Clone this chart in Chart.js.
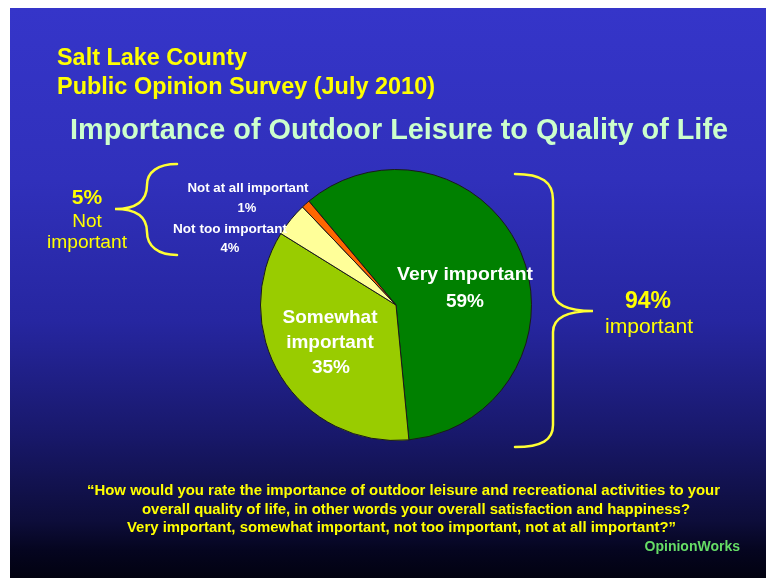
<!DOCTYPE html>
<html>
<head>
<meta charset="utf-8">
<script src="https://cdn.jsdelivr.net/npm/chart.js@4/dist/chart.umd.min.js"></script>
<style>
html,body{margin:0;padding:0;background:#ffffff;}
#wrap{position:absolute;left:0;top:0;width:766px;height:578px;}
</style>
</head>
<body>
<div id="wrap"><canvas id="c" width="766" height="578"></canvas></div>
<script>
// ---- data ----
const categories = ["Very important", "Somewhat important", "Not too important", "Not at all important"];
const values = [59, 35, 4, 1];
const sliceColors = ["#008000", "#99cc00", "#ffff99", "#ff6600"];
const headerLines = ["Salt Lake County", "Public Opinion Survey (July 2010)"];
const chartTitle = "Importance of Outdoor Leisure to Quality of Life";
const questionLines = [
  "\u201CHow would you rate the importance of outdoor leisure and recreational activities to your",
  "overall quality of life, in other words your overall satisfaction and happiness?",
  "Very important, somewhat important, not too important, not at all important?\u201D"
];
const groupNot = ["5%", "Not", "important"];
const groupImportant = ["94%", "important"];

const FONT = "'Liberation Sans', Arial, 'DejaVu Sans', sans-serif";

function txt(ctx, s, x, y, size, bold, color, align, fitW) {
  ctx.save();
  ctx.font = (bold ? "bold " : "") + size + "px " + FONT;
  ctx.fillStyle = color;
  ctx.textBaseline = "middle";
  const w = ctx.measureText(s).width;
  let sx = 1;
  if (fitW) sx = fitW / w;
  let left;
  if (align === "center") left = x - w * sx / 2;
  else if (align === "right") left = x - w * sx;
  else left = x;
  ctx.translate(left, y);
  ctx.scale(sx, 1);
  ctx.textAlign = "left";
  ctx.fillText(s, 0, 0);
  ctx.restore();
}

const slidePlugin = {
  id: "slide",
  beforeDraw(chart) {
    const ctx = chart.ctx;
    ctx.save();
    ctx.fillStyle = "#ffffff";
    ctx.fillRect(0, 0, 766, 578);
    const g = ctx.createLinearGradient(0, 8, 0, 578);
    g.addColorStop(0, "#3535c9");
    g.addColorStop(0.3, "#3030bb");
    g.addColorStop(0.55, "#2626a0");
    g.addColorStop(0.75, "#18186a");
    g.addColorStop(0.9, "#0d0d3a");
    g.addColorStop(0.95, "#050520");
    g.addColorStop(1, "#020210");
    ctx.fillStyle = g;
    ctx.fillRect(10, 8, 756, 570);
    ctx.restore();
  },
  afterDraw(chart) {
    const ctx = chart.ctx;
    // header
    txt(ctx, headerLines[0], 57, 59, 23, true, "#ffff00", "left", 190);
    txt(ctx, headerLines[1], 57, 88, 23, true, "#ffff00", "left", 378);
    txt(ctx, chartTitle, 70, 131, 29, true, "#ccffcc", "left", 658);
    // braces
    ctx.save();
    ctx.strokeStyle = "#ffff33";
    ctx.lineWidth = 2.5;
    ctx.lineCap = "round";
    ctx.beginPath();
    ctx.moveTo(177, 164);
    ctx.bezierCurveTo(158, 164, 147, 172, 147, 185);
    ctx.bezierCurveTo(147, 200, 138, 209, 115, 209);
    ctx.bezierCurveTo(138, 209, 147, 218, 147, 232);
    ctx.bezierCurveTo(147, 246, 158, 255, 177, 255);
    ctx.stroke();
    ctx.beginPath();
    ctx.moveTo(515, 174);
    ctx.bezierCurveTo(542, 174, 553, 182, 553, 200);
    ctx.lineTo(553, 290);
    ctx.bezierCurveTo(553, 304, 566, 311, 593, 311);
    ctx.bezierCurveTo(566, 311, 553, 318, 553, 332);
    ctx.lineTo(553, 425);
    ctx.bezierCurveTo(553, 440, 542, 447, 515, 447);
    ctx.stroke();
    ctx.restore();
    // group labels
    txt(ctx, groupNot[0], 87, 198, 21, true, "#ffff00", "center");
    txt(ctx, groupNot[1], 87, 222, 19, false, "#ffff00", "center");
    txt(ctx, groupNot[2], 87, 243, 19, false, "#ffff00", "center", 80);
    txt(ctx, groupImportant[0], 648, 302, 23, true, "#ffff00", "center");
    txt(ctx, groupImportant[1], 649, 327, 21, false, "#ffff00", "center", 88);
    // small slice labels
    txt(ctx, categories[3], 248, 188, 13, true, "#ffffff", "center", 121);
    txt(ctx, values[3] + "%", 247, 208, 13, true, "#ffffff", "center");
    txt(ctx, categories[2], 230, 229, 13, true, "#ffffff", "center", 114);
    txt(ctx, values[2] + "%", 230, 248, 13, true, "#ffffff", "center");
    // big slice labels
    txt(ctx, categories[0], 465, 275, 19, true, "#ffffff", "center", 136);
    txt(ctx, values[0] + "%", 465, 302, 19, true, "#ffffff", "center");
    txt(ctx, "Somewhat", 330, 318, 19, true, "#ffffff", "center", 95);
    txt(ctx, "important", 330, 343, 19, true, "#ffffff", "center");
    txt(ctx, values[1] + "%", 331, 368, 19, true, "#ffffff", "center");
    // question
    txt(ctx, questionLines[0], 87, 491, 14, true, "#ffff00", "left", 633);
    txt(ctx, questionLines[1], 142, 510, 14, true, "#ffff00", "left", 548);
    txt(ctx, questionLines[2], 127, 528, 14, true, "#ffff00", "left", 549);
    txt(ctx, "OpinionWorks", 740, 547, 14, true, "#66dd66", "right");
  }
};

new Chart(document.getElementById("c"), {
  type: "pie",
  data: {
    labels: categories,
    datasets: [{
      data: values,
      backgroundColor: sliceColors,
      borderColor: "#1a1a1a",
      borderWidth: 1
    }]
  },
  options: {
    responsive: false,
    animation: false,
    devicePixelRatio: 1,
    rotation: -40,
    layout: { padding: { left: 260, right: 234, top: 169, bottom: 137 } },
    plugins: {
      legend: { display: false },
      tooltip: { enabled: false },
      title: { display: false }
    }
  },
  plugins: [slidePlugin]
});
</script>
</body>
</html>
